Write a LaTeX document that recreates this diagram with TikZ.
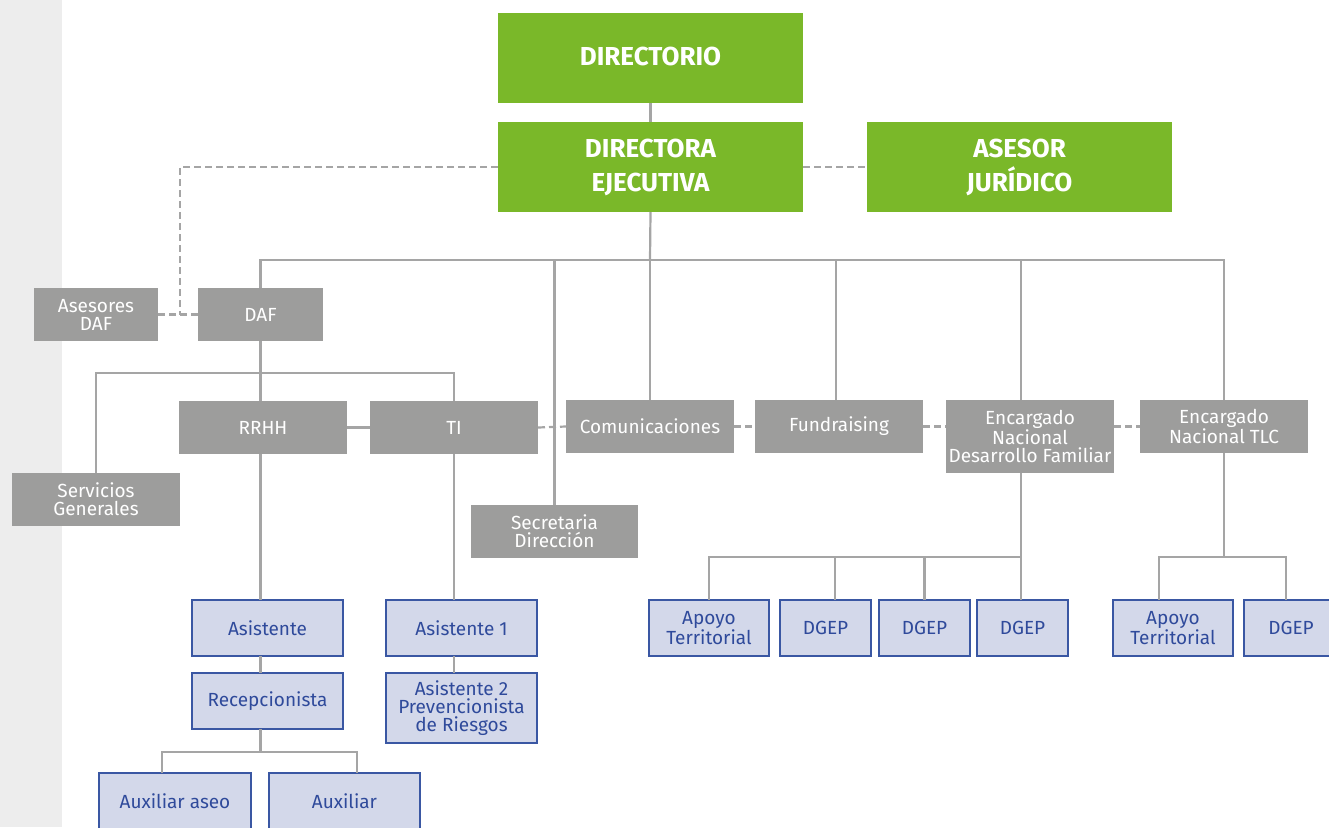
\documentclass[tikz,border=0pt]{standalone}
\usepackage{fontspec}
\setmainfont{Fira Sans}
\usetikzlibrary{calc}
\definecolor{grn}{HTML}{7AB829}
\definecolor{gbox}{HTML}{9D9D9C}
\definecolor{lin}{HTML}{A5A5A5}
\definecolor{bfill}{HTML}{D3D8EA}
\definecolor{bline}{HTML}{3A57A3}
\definecolor{btext}{HTML}{2F4A9B}
\definecolor{band}{HTML}{EDEDED}
\newcommand\bx[7]{\node[#6, minimum width={(#4-#2)*1pt}, minimum height={(#5-#3)*1pt}] (#1) at ({(#2+#4)/2},{(#3+#5)/2}) {#7};}
\tikzset{
  base/.style={rectangle, inner sep=0pt, outer sep=0pt, align=center},
  gbx/.style={base, fill=gbox, text=white, font=\fontsize{19}{18}\selectfont},
  grbx/.style={base, fill=grn, text=white, font=\fontsize{26}{34}\selectfont\bfseries},
  bbx/.style={base, fill=bfill, draw=bline, line width=1.3pt, text=btext, font=\fontsize{19}{18}\selectfont},
  conn/.style={draw=lin, line width=2.2pt},
  dsh/.style={conn, dash pattern=on 7pt off 4pt}
}
\begin{document}
\begin{tikzpicture}[x=1pt,y=-1pt]
\useasboundingbox (0,0) rectangle (1329,827);
\clip (0,0) rectangle (1329,827);
\fill[band] (0,0) rectangle (62,827);
% green
\bx{dir}{498}{13}{803}{103}{grbx}{\raisebox{4pt}{DIRECTORIO}}
\bx{de}{498}{122}{803}{212}{grbx}{DIRECTORA\\EJECUTIVA}
\bx{aj}{867}{122}{1172}{212}{grbx}{ASESOR\\JURÍDICO}
% gray
\bx{ad}{34}{288}{158}{341}{gbx}{Asesores\\DAF}
\bx{daf}{198}{288}{323}{341}{gbx}{DAF}
\bx{sg}{12}{473}{180}{526}{gbx}{Servicios\\Generales}
\bx{rrhh}{179}{401}{347}{454}{gbx}{RRHH}
\bx{ti}{370}{401}{538}{454}{gbx}{TI}
\bx{com}{566}{400}{734}{453}{gbx}{Comunicaciones}
\bx{fund}{755}{400}{923}{453}{gbx}{Fundraising}
\bx{edf}{946}{400}{1114}{473}{gbx}{Encargado\\Nacional\\Desarrollo Familiar}
\bx{tlc}{1140}{400}{1308}{453}{gbx}{Encargado\\Nacional TLC}
\bx{sec}{471}{505}{638}{558}{gbx}{Secretaria\\Dirección}
% blue
\bx{asis}{192}{600}{343}{656}{bbx}{Asistente}
\bx{rec}{192}{673}{343}{729}{bbx}{Recepcionista}
\bx{aa}{99}{773}{251}{829}{bbx}{Auxiliar aseo}
\bx{aux}{269}{773}{420}{829}{bbx}{Auxiliar}
\bx{a1}{386}{600}{537}{656}{bbx}{Asistente 1}
\bx{a2}{386}{673}{537}{743}{bbx}{Asistente 2\\Prevencionista\\de Riesgos}
\bx{ap1}{649}{600}{769}{656}{bbx}{Apoyo\\Territorial}
\bx{dg1}{780}{600}{871}{656}{bbx}{DGEP}
\bx{dg2}{879}{600}{970}{656}{bbx}{DGEP}
\bx{dg3}{977}{600}{1068}{656}{bbx}{DGEP}
\bx{ap2}{1113}{600}{1233}{656}{bbx}{Apoyo\\Territorial}
\bx{dg4}{1244}{600}{1338}{656}{bbx}{DGEP}
% connectors
\draw[conn] (dir.south) -- (de.north);
\coordinate (k) at (180,314.5);
\draw[dsh] (de.west) -| (k);
\draw[dsh] (ad.east) -- (daf.west);
\draw[dsh] (de.east) -- (aj.west);
\coordinate (bus) at (650,260);
\draw[conn] (de.south) -- (bus);
\draw[conn] (daf.north) |- (bus) -| (tlc.north);
\draw[conn] (sec.north) -- (sec.north |- bus);
\draw[conn] (com.north) -- (com.north |- bus);
\draw[conn] ([xshift=-3pt]fund.north) -- ([xshift=-3pt]fund.north |- bus);
\coordinate (edx) at ([xshift=-9pt]edf.north);
\draw[conn] (edx) -- (edx |- bus);
\draw[conn] (daf.south) -- (daf.south |- rrhh.north);
\coordinate (dbus) at ($(daf.south)+(0,32)$);
\draw[conn] (sg.north) |- (dbus) -| (ti.north);
\draw[conn] (rrhh.east) -- (ti.west);
\draw[dsh] (ti.east) -- (com.west);
\draw[dsh] (com.east) -- (fund.west);
\draw[dsh] (fund.east) -- (fund.east -| edf.west);
\draw[dsh] (tlc.west -| edf.east) -- (tlc.west);
\draw[conn] (daf.south |- rrhh.south) -- (daf.south |- asis.north);
\draw[conn] (daf.south |- asis.south) -- (daf.south |- rec.north);
\coordinate (rb) at (daf.south |- 0,752);
\draw[conn] (daf.south |- rec.south) -- (rb);
\draw[conn] ([xshift=-13pt]aa.north) |- (rb) -| ([xshift=12.5pt]aux.north);
\draw[conn] (ti.south) -- (ti.south |- a1.north);
\draw[conn] (ti.south |- a1.south) -- (ti.south |- a2.north);
\coordinate (eb) at (edx |- 0,557);
\draw[conn] (edf.south -| edx) -- (dg3.north -| edx);
\draw[conn] (ap1.north) |- (eb);
\draw[conn] ([xshift=9.5pt]dg1.north) -- ([xshift=9.5pt]dg1.north |- eb);
\draw[conn] (dg2.north) -- (dg2.north |- eb);
\coordinate (tb) at (tlc.south |- 0,557);
\draw[conn] (tlc.south) -- (tb);
\draw[conn] ([xshift=-14pt]ap2.north) |- ([xshift=-5pt]dg4.north |- tb) -- ([xshift=-5pt]dg4.north);
\end{tikzpicture}
\end{document}
